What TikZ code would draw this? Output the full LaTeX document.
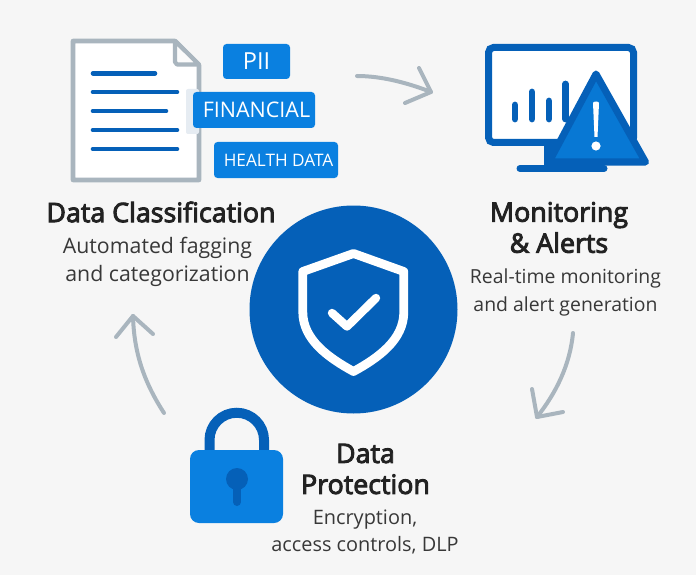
\documentclass[tikz,border=0pt]{standalone}
\usepackage{fontspec}
\setmainfont{Open Sans}
\newfontfamily\headfont{Open Sans}[FakeBold=3.5]
\definecolor{bg}{HTML}{F6F6F6}
\definecolor{navy}{HTML}{0560B8}
\definecolor{azure}{HTML}{0A80E0}
\definecolor{tri}{HTML}{0878D4}
\definecolor{slate}{HTML}{A9B5BE}
\definecolor{ink}{HTML}{222222}
\definecolor{pale}{HTML}{E6ECF2}
\tikzset{
  tagbox/.style={fill=azure,rounded corners=3.5pt,text=white,inner sep=0pt,anchor=center},
  head/.style={text=ink,font=\headfont\fontsize{26.8}{31}\selectfont,inner sep=0pt,align=center},
  sub/.style={text=ink!90,font=\fontsize{20.5}{28}\selectfont,inner sep=0pt,align=center},
  flow/.style={draw=slate,line width=4pt,line cap=round,line join=round},
  docline/.style={draw=navy,line width=4.6pt,line cap=round},
  bar/.style={draw=navy,line width=6.8pt,line cap=round}
}
\begin{document}
\begin{tikzpicture}[x=1pt,y=-1pt]
\useasboundingbox (0,0) rectangle (696,575);
\fill[bg] (0,0) rectangle (696,575);

% document
\draw[draw=slate,fill=white,line width=4.6pt,line join=round] (73,41) -- (175,41) -- (199,65) -- (199,180) -- (73,180) -- cycle;
\draw[draw=slate,fill=bg!40!white,line width=4.2pt,line join=round] (175,41) -- (175,62) -- (177,64.5) -- (199,64.5) -- cycle;
\draw[docline] (93,73.3) -- (155,73.3);
\draw[docline] (93,92) -- (177,92);
\draw[docline] (93,111) -- (166,111);
\draw[docline] (93,130) -- (177,130);
\draw[docline] (93,149) -- (177,149);
\fill[pale,rounded corners=2pt] (186,89) rectangle (199,134);

% tags
\node[tagbox,minimum width=67pt,minimum height=35pt,font=\fontsize{23.5}{24}\selectfont] (pii) at (256.5,61.5) {PII};
\node[tagbox,minimum width=122pt,minimum height=36pt,font=\fontsize{21.5}{24}\selectfont] (fin) at (254,110) {\hspace{5pt}FINANCIAL};
\node[tagbox,minimum width=124pt,minimum height=36pt,font=\fontsize{17.2}{20}\selectfont] (health) at (276,160) {\hspace{5pt}HEALTH DATA};

% monitor
\draw[navy,fill=white,line width=7pt,rounded corners=5pt] (488.5,47.5) rectangle (633.5,142.5);
\fill[navy] (544,146) rectangle (600,168);
\draw[navy,line width=7pt,line cap=round] (520,168.5) -- (604,168.5);
\draw[bar] (515,105) -- (515,119);
\draw[bar] (532,92) -- (532,119);
\draw[bar] (549,101) -- (549,119);
\draw[bar] (565.5,84) -- (565.5,119);
\draw[navy,fill=tri,line width=7pt,line join=round] (596,74) -- (645.5,162) -- (549,162) -- cycle;
\fill[white] (593,103) .. controls (593,101) and (599,101) .. (599,103) -- (597.5,137) -- (594.5,137) -- cycle;
\fill[white] (596,146) circle[radius=4.6pt];

% centre
\node[circle,fill=navy,minimum size=208pt,inner sep=0pt] (hub) at (353.5,309.5) {};
\draw[white,line width=8.8pt,line join=round] (353.5,253.5) -- (403.8,271.5) -- (403.8,312) .. controls (403.8,340) and (378,358) .. (353.5,371.5) .. controls (329,358) and (302.8,340) .. (302.8,312) -- (302.8,271.5) -- cycle;
\draw[white,line width=8.4pt,line cap=round,line join=round] (332,313) -- (347,326.5) -- (376,298);

% lock
\draw[navy,line width=10pt] (209.5,452) -- (209.5,440) arc[start angle=180,end angle=0,radius=27.25pt] -- (264,452);
\node[fill=azure,rounded corners=9pt,minimum width=93pt,minimum height=73pt,inner sep=0pt] (lock) at (236.5,486.5) {};
\fill[navy] (237,479) circle[radius=11pt];
\draw[navy,line width=8pt,line cap=round] (237,481) -- (237,502);

% arrows
\coordinate (a1s) at (357,76);
\coordinate (a1e) at (431,92);
\coordinate (a1l) at (419,68);
\coordinate (a1r) at (405,103);
\draw[flow] (a1s) .. controls (382,76) and (408,83) .. (a1e);
\draw[flow] (a1l) -- (a1e) -- (a1r);
\coordinate (a2s) at (573,333);
\coordinate (a2e) at (537,417);
\coordinate (a2l) at (532,389);
\coordinate (a2r) at (563,412);
\draw[flow] (a2s) .. controls (570,365) and (556,393) .. (a2e);
\draw[flow] (a2l) -- (a2e) -- (a2r);
\coordinate (a3s) at (164,413);
\coordinate (a3e) at (133,316);
\coordinate (a3l) at (116,337);
\coordinate (a3r) at (153,334);
\draw[flow] (a3s) .. controls (146,385) and (134,356) .. (a3e);
\draw[flow] (a3l) -- (a3e) -- (a3r);

% text
\node[head] (t1) at (161,212) {Data Classification};
\node[sub,font=\fontsize{21.3}{28}\selectfont] (s1) at (157.5,262) {Automated fagging\\and categorization};
\node[head] (t2) at (559,227.5) {Monitoring\\\& Alerts};
\node[sub,font=\fontsize{19.4}{28}\selectfont] (s2) at (565.5,292) {Real-time monitoring\\and alert generation};
\node[head] (t3) at (365.5,469) {Data\\Protection};
\node[sub,font=\fontsize{19.9}{27.5}\selectfont] (s3) at (365,532) {Encryption,\\access controls, DLP};
\end{tikzpicture}
\end{document}
